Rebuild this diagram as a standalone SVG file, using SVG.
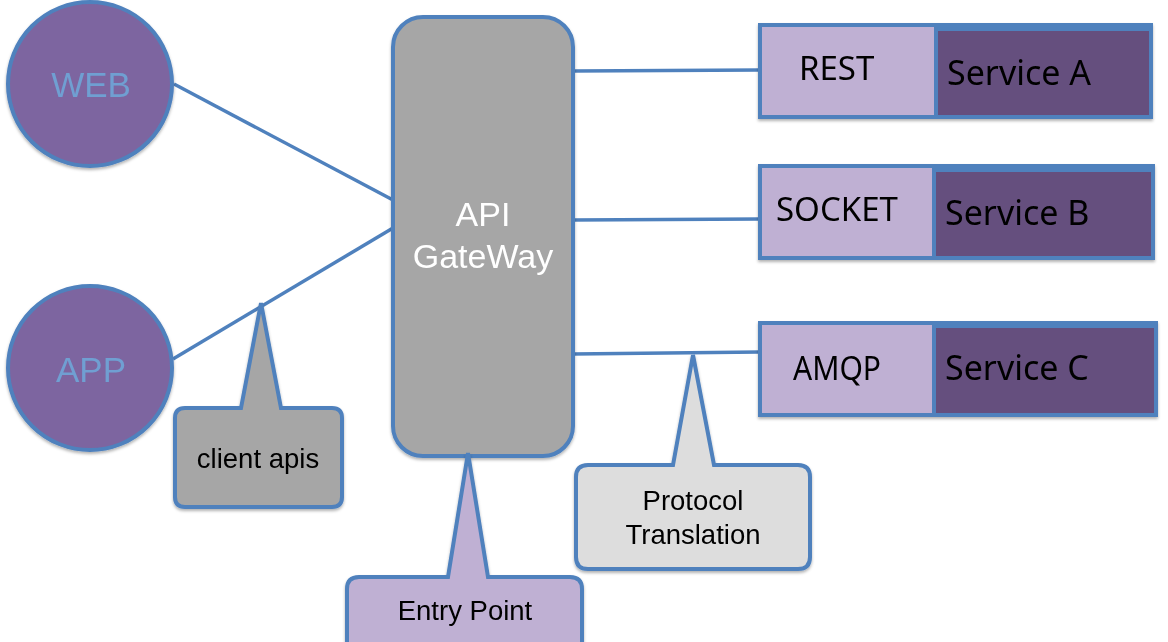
<svg xmlns="http://www.w3.org/2000/svg" width="1168" height="642" viewBox="0 0 1168 642">
<style>
.stroke{stroke:#4f81bd;stroke-width:4;}
.conn{stroke:#4f81bd;stroke-width:3.5;fill:none;}
.client{fill:#7d65a0;}
.ctext{font-family:"Liberation Sans",Arial,sans-serif;font-size:35px;fill:#6f9fd2;text-anchor:middle;}
.gtext{font-family:"Liberation Sans",Arial,sans-serif;font-size:34px;fill:#ffffff;text-anchor:middle;}
.ptext{font-family:"Noto Sans","Open Sans",sans-serif;font-size:33px;fill:#000000;}
.stext{font-family:"Noto Sans","Open Sans",sans-serif;font-size:34px;fill:#000000;}
.note{font-family:"Liberation Sans",Arial,sans-serif;font-size:27.5px;fill:#000000;text-anchor:middle;}
.proto{fill:#bfb0d3;}
.svc{fill:#654f7e;}
</style>
<defs>
<filter id="sh" x="-10%" y="-10%" width="120%" height="130%">
<feDropShadow dx="0" dy="2" stdDeviation="1.5" flood-color="#000" flood-opacity="0.3"/>
</filter>
</defs>
<g id="connectors">
<line class="conn" x1="174" y1="84" x2="393" y2="200"/>
<line class="conn" x1="173" y1="359" x2="393" y2="228"/>
<line class="conn" x1="573" y1="71" x2="760" y2="70"/>
<line class="conn" x1="573" y1="220" x2="760" y2="219"/>
<line class="conn" x1="573" y1="354" x2="760" y2="352"/>
</g>
<g id="web" filter="url(#sh)">
<circle class="client stroke" cx="90" cy="84" r="82"/>
<text class="ctext" x="91" y="97">WEB</text>
</g>
<g id="app" filter="url(#sh)">
<circle class="client stroke" cx="90" cy="368" r="82"/>
<text class="ctext" x="91" y="382">APP</text>
</g>
<g id="gateway" filter="url(#sh)">
<rect class="stroke" x="393" y="17" width="180" height="439" rx="30" ry="30" fill="#a6a6a6"/>
<text class="gtext" x="483" y="226">API</text>
<text class="gtext" x="483" y="268">GateWay</text>
</g>
<g id="serviceA" filter="url(#sh)">
<rect class="proto stroke" x="760" y="25" width="391" height="92"/>
<rect class="svc stroke" x="936" y="29" width="215" height="88"/>
<text class="ptext" x="799" y="80">REST</text>
<text class="stext" x="947" y="85">Service A</text>
</g>
<g id="serviceB" filter="url(#sh)">
<rect class="proto stroke" x="760" y="166" width="393" height="92"/>
<rect class="svc stroke" x="934" y="170" width="219" height="88"/>
<text class="ptext" x="776" y="221">SOCKET</text>
<text class="stext" x="945" y="225">Service B</text>
</g>
<g id="serviceC" filter="url(#sh)">
<rect class="proto stroke" x="760" y="323" width="396" height="92"/>
<rect class="svc stroke" x="934" y="326" width="222" height="89"/>
<text class="ptext" x="793" y="380" textLength="88" lengthAdjust="spacingAndGlyphs">AMQP</text>
<text class="stext" x="945" y="380">Service C</text>
</g>
<g id="clientApis" filter="url(#sh)">
<path class="stroke" fill="#a6a6a6" d="M185,408 L241,408 L261,303 L281,408 L332,408 Q342,408 342,418 L342,497 Q342,507 332,507 L185,507 Q175,507 175,497 L175,418 Q175,408 185,408 Z"/>
<text class="note" x="258" y="468">client apis</text>
</g>
<g id="entryPoint" filter="url(#sh)">
<path class="stroke" fill="#bfb0d3" d="M359,577 L448,577 L468,453 L488,577 L570,577 Q582,577 582,589 L582,660 L347,660 L347,589 Q347,577 359,577 Z"/>
<text class="note" x="465" y="620">Entry Point</text>
</g>
<g id="protocolTranslation" filter="url(#sh)">
<path class="stroke" fill="#dddddd" d="M588,465 L673,465 L693,355 L714,465 L798,465 Q810,465 810,477 L810,557 Q810,569 798,569 L588,569 Q576,569 576,557 L576,477 Q576,465 588,465 Z"/>
<text class="note" x="693" y="510">Protocol</text>
<text class="note" x="693" y="544">Translation</text>
</g>
</svg>
